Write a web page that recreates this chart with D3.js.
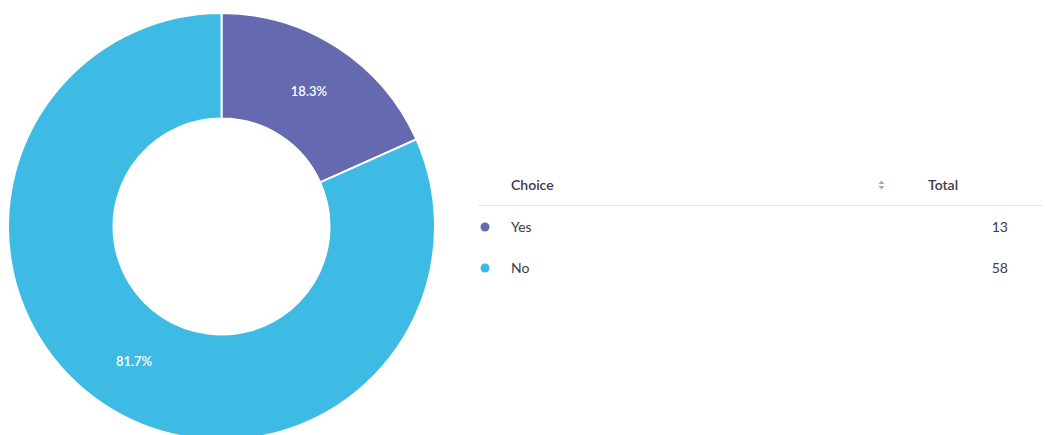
<!DOCTYPE html>
<html>
<head>
<meta charset="utf-8">
<script src="https://cdn.jsdelivr.net/npm/d3@7"></script>
<style>
  body { margin: 0; background: #fff; }
  svg { display: block; font-family: Lato, "Open Sans", sans-serif; }
</style>
</head>
<body>
<div id="chart"></div>
<script>
// data
const choices = ['Yes', 'No'];
const totals = [13, 58];
const colors = ['#6569b0', '#3dbbe4'];

const width = 1045, height = 435;
const svg = d3.select('#chart').append('svg')
    .attr('width', width)
    .attr('height', height);

// donut
const cx = 221.5, cy = 226.5;
const outerR = 213.5, innerR = 108;
const sum = d3.sum(totals);

const pie = d3.pie().sort(null).value(d => d.total);
const arc = d3.arc().innerRadius(innerR).outerRadius(outerR);
const rows = choices.map((c, i) => ({ choice: c, total: totals[i], color: colors[i] }));

const g = svg.append('g').attr('transform', `translate(${cx},${cy})`);
const slices = g.selectAll('g.slice')
    .data(pie(rows))
    .enter()
    .append('g')
    .classed('slice', true);

slices.append('path')
    .attr('d', arc)
    .attr('fill', d => d.data.color)
    .attr('stroke', '#fff')
    .attr('stroke-width', 2);

slices.append('text')
    .attr('transform', d => `translate(${arc.centroid(d)})`)
    .attr('text-anchor', 'middle')
    .attr('dy', '0.35em')
    .style('font-size', '13px')
    .style('font-weight', 600)
    .attr('fill', '#fff')
    .text(d => (d.data.total / sum * 100).toFixed(1) + '%');

// legend table
const tx = 478;
const table = svg.append('g');

table.append('text')
    .attr('x', 511).attr('y', 190)
    .style('font-size', '14px')
    .style('font-weight', 600)
    .attr('fill', '#3b3b4b')
    .text('Choice');

table.append('text')
    .attr('x', 928).attr('y', 190)
    .style('font-size', '14px')
    .style('font-weight', 600)
    .attr('fill', '#3b3b4b')
    .text('Total');

// sort icon
table.append('path')
    .attr('d', 'M878.5,184 L881.5,180.5 L884.5,184 Z M878.5,186 L881.5,189.5 L884.5,186 Z')
    .attr('fill', '#a9abbd');

table.append('line')
    .attr('x1', tx).attr('x2', 1043)
    .attr('y1', 205.5).attr('y2', 205.5)
    .attr('stroke', '#e1e2e8')
    .attr('stroke-width', 1);

const y = d3.scalePoint()
    .domain(choices)
    .range([227, 268]);

const row = table.selectAll('g.row')
    .data(rows)
    .enter()
    .append('g')
    .classed('row', true)
    .attr('transform', d => `translate(0,${y(d.choice)})`);

row.append('circle')
    .attr('cx', 485).attr('cy', 0).attr('r', 4.5)
    .attr('fill', d => d.color);

row.append('text')
    .attr('x', 511).attr('dy', '0.35em')
    .style('font-size', '14px')
    .attr('fill', '#3b3b4b')
    .text(d => d.choice);

row.append('text')
    .attr('x', 1008).attr('dy', '0.35em')
    .attr('text-anchor', 'end')
    .style('font-size', '14px')
    .attr('fill', '#3b3b4b')
    .text(d => d.total);
</script>
</body>
</html>
